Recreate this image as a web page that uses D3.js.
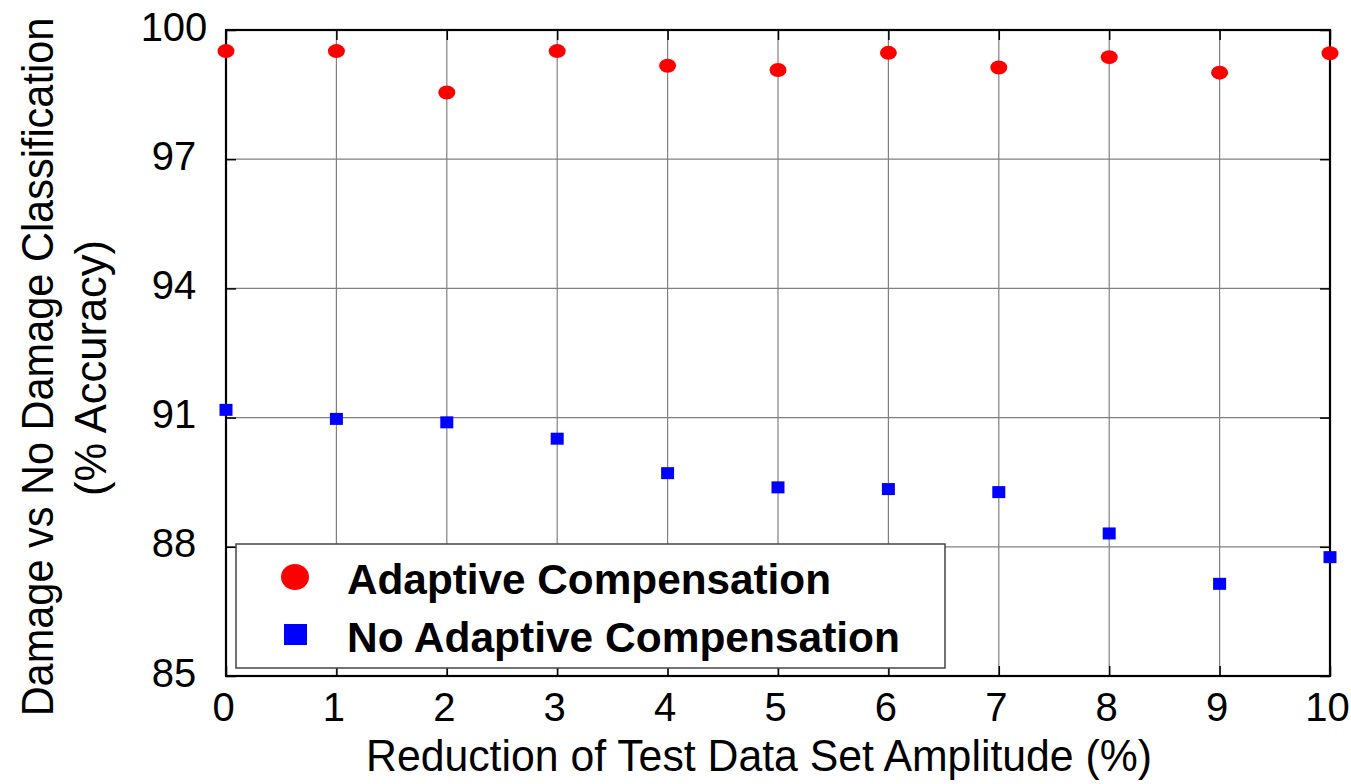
<!DOCTYPE html>
<html><head><meta charset="utf-8">
<script src="https://cdn.jsdelivr.net/npm/d3@7"></script>
<style>body{margin:0;background:#fff;} text{font-family:"Liberation Sans",Arial,sans-serif;}</style>
</head><body>
<svg id="chart" width="1351" height="784"></svg>
<script>
const xValues = [0,1,2,3,4,5,6,7,8,9,10];
const adaptive = [99.51,99.51,98.55,99.51,99.17,99.07,99.47,99.13,99.37,99.01,99.46];
const noAdaptive = [91.18,90.97,90.89,90.51,89.71,89.38,89.34,89.27,88.31,87.14,87.76];
const xTicks = [0,1,2,3,4,5,6,7,8,9,10];
const yTicks = [85,88,91,94,97,100];
const seriesNames = ["Adaptive Compensation","No Adaptive Compensation"];
const xTitle = "Reduction of Test Data Set Amplitude (%)";
const yTitle1 = "Damage vs No Damage Classification";
const yTitle2 = "(% Accuracy)";

const svg = d3.select("#chart");
const L=226,R=1330,T=30,B=676;
const x = d3.scaleLinear().domain([0,10]).range([L,R]);
const y = d3.scaleLinear().domain([85,100]).range([B,T]);

// gridlines
svg.append("g").selectAll("line").data(xTicks.slice(1,-1)).join("line")
  .attr("x1",d=>x(d)).attr("x2",d=>x(d)).attr("y1",T).attr("y2",B)
  .attr("stroke","#808080").attr("stroke-width",1.2);
svg.append("g").selectAll("line").data(yTicks.slice(1,-1)).join("line")
  .attr("y1",d=>y(d)).attr("y2",d=>y(d)).attr("x1",L).attr("x2",R)
  .attr("stroke","#808080").attr("stroke-width",1.2);

// axes (ticks inward)
const tk = 10;
const gx = svg.append("g").attr("transform",`translate(0,${B})`)
  .call(d3.axisBottom(x).tickValues(xTicks).tickSize(-tk).tickFormat(d3.format("d")));
const gxt = svg.append("g").attr("transform",`translate(0,${T})`)
  .call(d3.axisTop(x).tickValues(xTicks).tickSize(-tk).tickFormat(""));
const gy = svg.append("g").attr("transform",`translate(${L},0)`)
  .call(d3.axisLeft(y).tickValues(yTicks).tickSize(-tk).tickFormat(""));
const gyr = svg.append("g").attr("transform",`translate(${R},0)`)
  .call(d3.axisRight(y).tickValues(yTicks).tickSize(-tk).tickFormat(""));
[gx,gxt,gy,gyr].forEach(g=>{g.select(".domain").remove();g.selectAll(".tick line").attr("stroke","#000").attr("stroke-width",1.5);});
gx.selectAll(".tick text").attr("font-size",40).attr("fill","#000").attr("dy",null).attr("y",45).attr("x",-3)
  .attr("font-family","'Liberation Sans',Arial,sans-serif");
// y tick labels centered at x=174
svg.append("g").selectAll("text").data(yTicks).join("text")
  .attr("x",174).attr("y",d=>y(d)+10.5).attr("text-anchor","middle")
  .attr("font-size",40).text(d=>d);

// frame
svg.append("rect").attr("x",L).attr("y",T).attr("width",R-L).attr("height",B-T)
  .attr("fill","none").attr("stroke","#000").attr("stroke-width",2.2);

// legend
const lg = svg.append("g");
lg.append("rect").attr("x",236).attr("y",544).attr("width",709).attr("height",124)
  .attr("fill","#fff").attr("stroke","#444").attr("stroke-width",1.5);
lg.append("ellipse").attr("cx",295).attr("cy",577).attr("rx",14).attr("ry",13).attr("fill","#ff0000");
lg.append("rect").attr("x",284).attr("y",624).attr("width",23).attr("height",21).attr("fill","#0000ff");
const legLen = [484,553];
lg.selectAll("text.leg").data(seriesNames).join("text").attr("class","leg")
  .attr("x",347).attr("y",(d,i)=>i===0?594:652).attr("font-size",43).attr("font-weight","bold")
  .attr("textLength",(d,i)=>legLen[i]).attr("lengthAdjust","spacingAndGlyphs")
  .text(d=>d);

// data points
svg.append("g").selectAll("ellipse").data(xValues).join("ellipse")
  .attr("cx",d=>x(d)).attr("cy",(d,i)=>y(adaptive[i])).attr("rx",8.5).attr("ry",7).attr("fill","#ff0000");
svg.append("g").selectAll("rect").data(xValues).join("rect")
  .attr("x",d=>x(d)-6.5).attr("y",(d,i)=>y(noAdaptive[i])-6).attr("width",13).attr("height",12).attr("fill","#0000ff");

// titles
svg.append("text").attr("x",366).attr("y",771).attr("font-size",44.5)
  .attr("textLength",786).attr("lengthAdjust","spacingAndGlyphs").text(xTitle);
svg.append("text").attr("transform","translate(53,367) rotate(-90) scale(1,1.06)")
  .attr("text-anchor","middle").attr("font-size",41.5).text(yTitle1);
svg.append("text").attr("transform","translate(106,368) rotate(-90) scale(1,1.02)")
  .attr("text-anchor","middle").attr("font-size",43.5).text(yTitle2);
</script>
</body></html>
